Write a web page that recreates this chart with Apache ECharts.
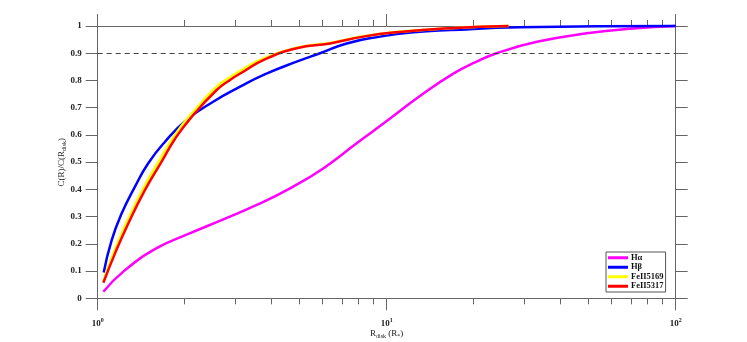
<!DOCTYPE html>
<html>
<head>
<meta charset="utf-8">
<script src="https://cdn.jsdelivr.net/npm/echarts@6/dist/echarts.min.js"></script>
<style>
  html, body { margin: 0; padding: 0; background: #fff; }
  #chart { width: 747px; height: 342px; }
</style>
</head>
<body>
<div id="chart"></div>
<script>
// values: R_disk (R*) and C(R)/C(R_disk)
const haR = [1.046, 1.226, 1.6, 2.09, 2.72, 3.55, 4.63, 6.03, 7.87, 10.27, 13.0, 17.0, 20.2, 24.0, 33.1, 49.2, 71.3, 100];
const haC = [0.024, 0.098, 0.184, 0.239, 0.29, 0.343, 0.404, 0.477, 0.569, 0.66, 0.742, 0.825, 0.866, 0.9, 0.942, 0.973, 0.991, 1.0];

const hbR = [1.049, 1.118, 1.211, 1.346, 1.496, 1.71, 2.03, 2.51, 3.11, 3.8, 4.88, 5.88, 7.27, 9.48, 12.4, 16.6, 28.9, 100];
const hbC = [0.095, 0.214, 0.312, 0.41, 0.496, 0.575, 0.655, 0.722, 0.777, 0.823, 0.869, 0.9, 0.936, 0.961, 0.977, 0.985, 0.995, 1.0];

const fe5169R = [1.046, 1.148, 1.276, 1.458, 1.664, 1.85, 2.09, 2.58, 2.87, 3.19, 3.74, 4.88, 6.37, 8.3, 10.8, 16.6, 26.4];
const fe5169C = [0.063, 0.18, 0.292, 0.416, 0.52, 0.6, 0.672, 0.777, 0.812, 0.842, 0.88, 0.92, 0.938, 0.962, 0.978, 0.992, 1.0];

const fe5317R = [1.046, 1.148, 1.276, 1.458, 1.664, 1.85, 2.09, 2.58, 2.87, 3.19, 3.74, 4.88, 6.37, 8.3, 10.8, 16.6, 26.4];
const fe5317C = [0.057, 0.165, 0.275, 0.398, 0.502, 0.585, 0.66, 0.765, 0.802, 0.832, 0.875, 0.918, 0.936, 0.961, 0.977, 0.992, 1.0];

const seriesNames = ["H\u03b1", "H\u03b2", "FeII5169", "FeII5317"];
const minorX = [2, 3, 4, 5, 6, 7, 8, 9, 20, 30, 40, 50, 60, 70, 80, 90];
const levelLine = 0.9;

const pairs = (xs, ys) => xs.map((x, i) => [x, ys[i]]);
const axisGray = "#666";
const font = "'Liberation Serif', 'Times New Roman', serif";

const chart = echarts.init(document.getElementById("chart"));

const logAxis = (position, major, labels) => ({
  type: "log",
  logBase: 10,
  min: 1,
  max: 100,
  position: position,
  axisLine: { show: major, lineStyle: { color: axisGray, width: 1 } },
  axisTick: major
    ? { show: true, inside: false, length: 12, lineStyle: { color: axisGray } }
    : { show: true, inside: false, length: 6, customValues: minorX, lineStyle: { color: axisGray } },
  axisLabel: labels
    ? {
        show: true,
        margin: 19,
        formatter: (v) => "{b|10}{s|" + Math.round(Math.log10(v)) + "}",
        rich: {
          b: { fontFamily: font, fontWeight: "bold", fontSize: 9, color: "#222" },
          s: { fontFamily: font, fontWeight: "bold", fontSize: 6, color: "#222", padding: [0, 0, 6, 0] },
        },
      }
    : { show: false },
  splitLine: { show: false },
  minorTick: { show: false },
});

const valAxis = (position, labels) => ({
  type: "value",
  min: 0,
  max: 1,
  interval: 0.1,
  position: position,
  axisLine: { show: true, lineStyle: { color: axisGray, width: 1 } },
  axisTick: { show: true, inside: false, length: 12, lineStyle: { color: axisGray } },
  axisLabel: {
    show: labels,
    margin: 16,
    fontFamily: font,
    fontWeight: "bold",
    fontSize: 9,
    color: "#222",
  },
  splitLine: { show: false },
});

const xMain = logAxis("bottom", true, true);
xMain.name = "R{sub|disk} (R{sub|*})";
xMain.nameLocation = "middle";
xMain.nameGap = 29;
xMain.nameMoveOverlap = false;
xMain.nameTextStyle = {
  fontFamily: font, fontSize: 9, color: "#222",
  rich: { sub: { fontFamily: font, fontSize: 6, color: "#222", padding: [6, 0, 0, 0] } },
};

const yMain = valAxis("left", true);
yMain.name = "C(R)/C(R{sub|disk})";
yMain.nameLocation = "middle";
yMain.nameRotate = 90;
yMain.nameGap = 30;
yMain.nameMoveOverlap = false;
yMain.nameTextStyle = {
  fontFamily: font, fontSize: 9, color: "#222",
  rich: { sub: { fontFamily: font, fontSize: 6, color: "#222", padding: [6, 0, 0, 0] } },
};

const line = (name, color, data) => ({
  name: name,
  type: "line",
  data: data,
  smooth: 0.5,
  showSymbol: false,
  symbol: "none",
  lineStyle: { color: color, width: 2.5 },
  itemStyle: { color: color },
  clip: false,
});

const series = [
  line(seriesNames[0], "#ff00ff", pairs(haR, haC)),
  line(seriesNames[1], "#0000ff", pairs(hbR, hbC)),
  line(seriesNames[2], "#ffff00", pairs(fe5169R, fe5169C)),
  line(seriesNames[3], "#ff0000", pairs(fe5317R, fe5317C)),
];
series[0].markLine = {
  silent: true,
  symbol: "none",
  label: { show: false },
  lineStyle: { color: "#444", width: 1, type: [5, 4] },
  data: [{ yAxis: levelLine }],
};

const option = {
  animation: false,
  backgroundColor: "#fff",
  grid: {
    left: 97.7, right: 71.3, top: 26, bottom: 43.7,
    containLabel: false,
    outerBoundsMode: "none",
  },
  legend: {
    orient: "vertical",
    left: 606,
    top: 252,
    padding: [1, 2, 1, 2],
    itemGap: 0,
    itemWidth: 20,
    itemHeight: 3,
    icon: "rect",
    backgroundColor: "#fff",
    borderColor: "#555",
    borderWidth: 1,
    borderRadius: 0,
    data: seriesNames,
    textStyle: { fontFamily: font, fontWeight: "bold", fontSize: 8.5, color: "#111", lineHeight: 9.5, padding: [0, 0, 0, -2] },
  },
  xAxis: [
    xMain,
    logAxis("bottom", false, false),
    logAxis("top", true, false),
    logAxis("top", false, false),
  ],
  yAxis: [yMain, valAxis("right", false)],
  series: series,
};

option && chart.setOption(option);
</script>
</body>
</html>
